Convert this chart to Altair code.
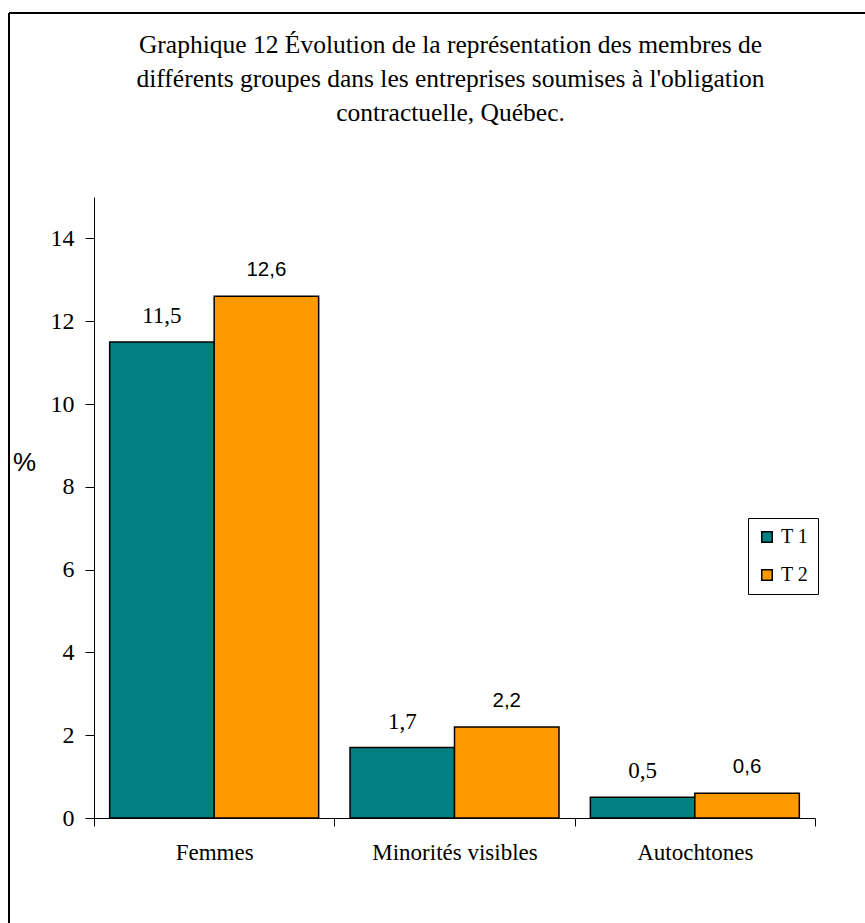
import altair as alt
import pandas as pd

# Groups, periods and shares (%)
groupes = ["Femmes", "Minorités visibles", "Autochtones"]
periodes = ["T1", "T2"]
t1_values = [11.5, 1.7, 0.5]
t2_values = [12.6, 2.2, 0.6]
y_ticks = [0, 2, 4, 6, 8, 10, 12, 14]

rows = []
for g, a, b in zip(groupes, t1_values, t2_values):
    rows.append({"groupe": g, "periode": "T1", "valeur": a})
    rows.append({"groupe": g, "periode": "T2", "valeur": b})
df = pd.DataFrame(rows)
df["label"] = df["valeur"].map(lambda v: f"{v:.1f}".replace(".", ","))

SERIF = "Liberation Serif"
SANS = "Liberation Sans"
W, H = 721, 621

x_scale = alt.Scale(paddingInner=0, paddingOuter=0)
x_enc = alt.X(
    "groupe:N",
    sort=groupes,
    scale=x_scale,
    axis=alt.Axis(
        title=None,
        labelAngle=0,
        labelFont=SERIF,
        labelFontSize=23,
        labelColor="black",
        labelPadding=26,
        tickBand="extent",
        tickSize=8,
        tickColor="black",
        domainColor="black",
        labelBaseline="middle",
    ),
)
y_scale = alt.Scale(domain=[0, 15], nice=False)
x_off = alt.XOffset("periode:N", sort=periodes,
                    scale=alt.Scale(paddingInner=0, paddingOuter=0.15))

bars = alt.Chart(df).mark_bar(stroke="black", strokeWidth=1.5).encode(
    x=x_enc,
    xOffset=x_off,
    y=alt.Y(
        "valeur:Q",
        scale=y_scale,
        axis=alt.Axis(
            values=y_ticks,
            grid=False,
            title="%",
            titleAngle=0,
            titleFont=SANS,
            titleFontSize=26,
            titleFontWeight="normal",
            titleX=-70,
            titleY=265,
            titleAlign="center",
            titleBaseline="middle",
            labelFont=SERIF,
            labelFontSize=24,
            labelColor="black",
            labelPadding=11,
            tickSize=9,
            tickColor="black",
            domainColor="black",
        ),
    ),
    color=alt.Color(
        "periode:N",
        sort=periodes,
        scale=alt.Scale(domain=periodes, range=["#008080", "#FF9900"]),
        legend=alt.Legend(
            title=None,
            orient="none",
            legendX=654,
            legendY=321,
            direction="vertical",
            strokeColor="black",
            fillColor="white",
            padding=9,
            symbolType="square",
            symbolSize=110,
            symbolStrokeColor="black",
            symbolStrokeWidth=1.5,
            symbolOpacity=1,
            labelFont=SERIF,
            labelFontSize=20,
            labelColor="black",
            labelOffset=4,
            labelExpr="replace(datum.label, 'T', 'T ')",
            rowPadding=18,
            cornerRadius=0,
        ),
    ),
)

label_t1 = alt.Chart(df).transform_filter(alt.datum.periode == "T1").mark_text(
    font=SERIF, fontSize=23, baseline="alphabetic", dy=-19, color="black"
).encode(x=alt.X("groupe:N", sort=groupes, scale=x_scale), xOffset=x_off,
         y=alt.Y("valeur:Q", scale=y_scale), text="label:N")

label_t2 = alt.Chart(df).transform_filter(alt.datum.periode == "T2").mark_text(
    font=SANS, fontSize=20.5, baseline="alphabetic", dy=-20, color="black"
).encode(x=alt.X("groupe:N", sort=groupes, scale=x_scale), xOffset=x_off,
         y=alt.Y("valeur:Q", scale=y_scale), text="label:N")

# Outer frame lines (left and top edges of the chart box)
frame_left = alt.Chart(df).mark_rule(color="black", strokeWidth=2).encode(
    x=alt.value(-85), y=alt.value(-184), y2=alt.value(H + 120)
)
frame_top = alt.Chart(df).mark_rule(color="black", strokeWidth=2).encode(
    x=alt.value(-85), x2=alt.value(W + 60), y=alt.value(-184)
)

chart = alt.layer(bars, label_t1, label_t2, frame_left, frame_top).properties(
    width=W,
    height=H,
    title=alt.TitleParams(
        text=[
            "Graphique 12 Évolution de la représentation des membres de",
            "différents groupes dans les entreprises soumises à l'obligation",
            "contractuelle, Québec.",
        ],
        font=SERIF,
        fontSize=25.5,
        fontWeight="normal",
        color="black",
        lineHeight=34,
        anchor="middle",
        dx=-4,
        offset=-114,
    ),
    autosize=alt.AutoSizeParams(type="none"),
    padding={"left": 94, "top": 197, "right": 50, "bottom": 105},
).configure(background="white", view=alt.ViewConfig(stroke=None))

chart.save("out.html", embed_options={"renderer": "svg", "actions": False})
